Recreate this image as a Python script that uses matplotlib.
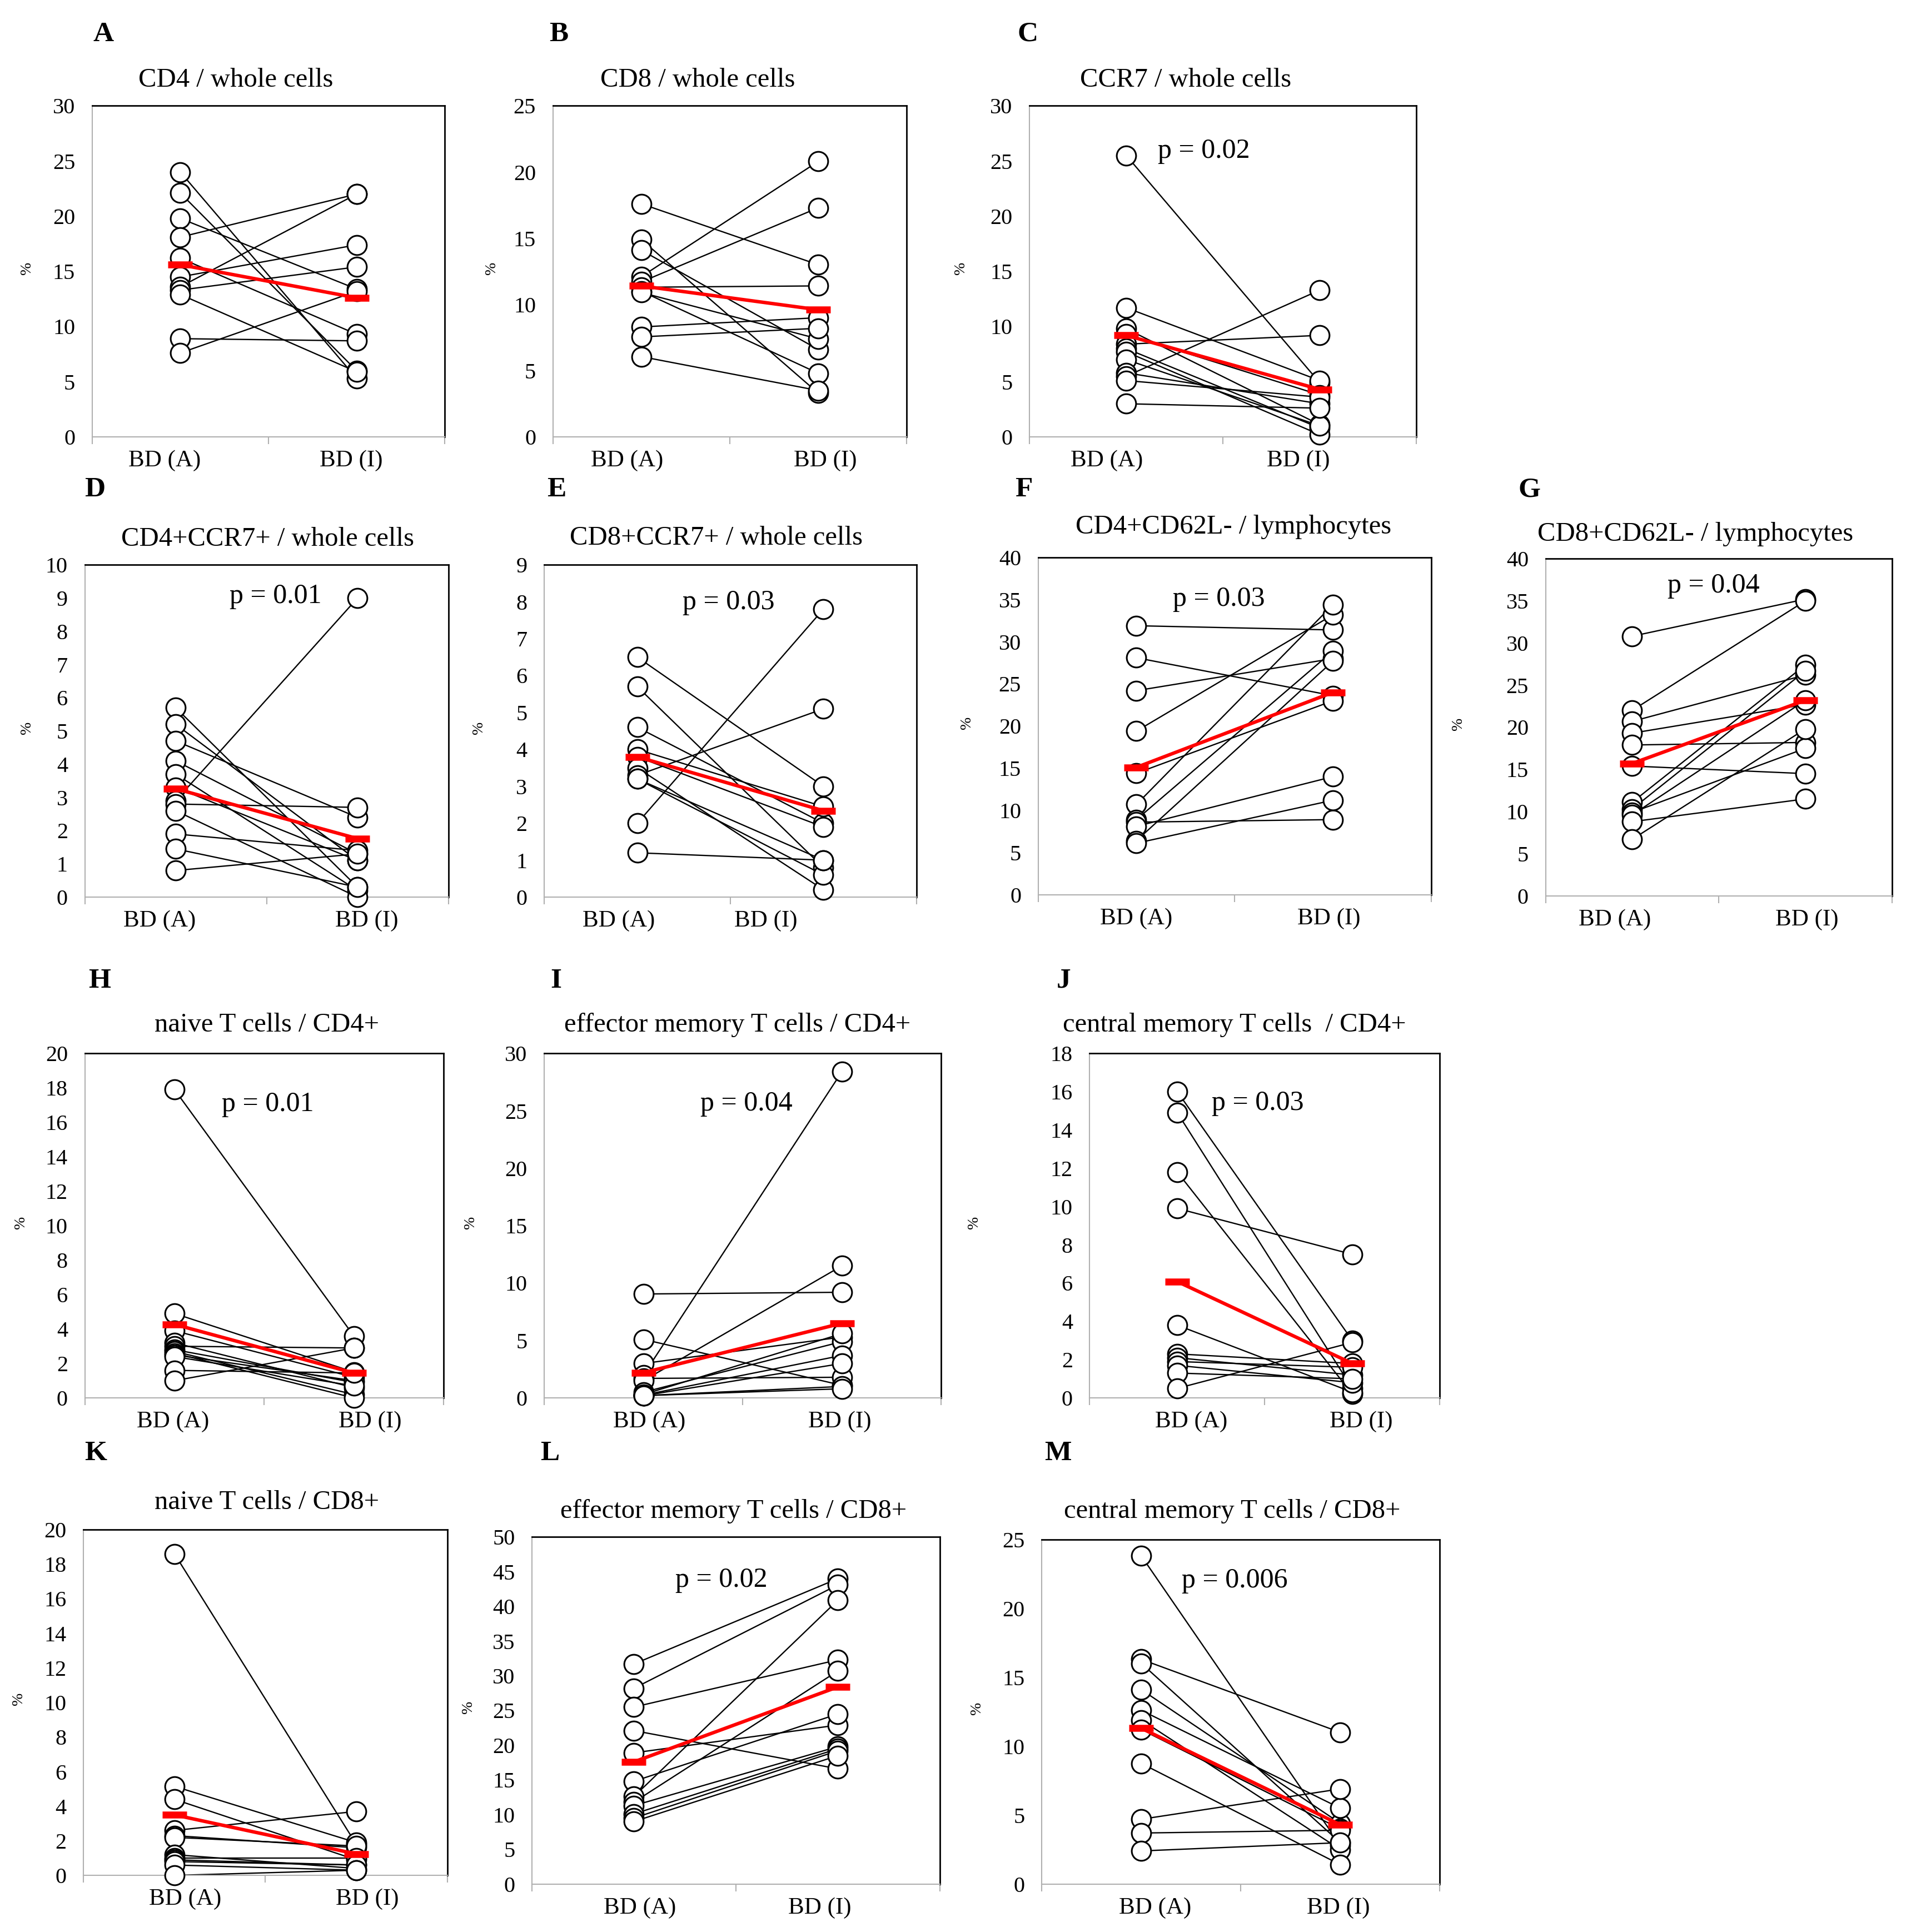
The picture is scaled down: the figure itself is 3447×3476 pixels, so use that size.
import matplotlib.pyplot as plt

plt.rcParams["font.family"] = ["Liberation Serif", "DejaVu Serif"]

groups = ["BD (A)", "BD (I)"]

# A  CD4 / whole cells
cd4_a = [24.0, 22.1, 19.8, 18.1, 16.2, 14.5, 13.6, 13.3, 12.9, 8.9, 7.6]
cd4_i = [5.3, 6.0, 13.4, 22.0, 9.3, 17.4, 22.0, 15.4, 5.9, 8.7, 13.2]
cd4_mean = [15.6, 12.6]

# B  CD8 / whole cells
cd8_a = [17.6, 14.9, 14.1, 12.1, 11.7, 11.3, 11.0, 10.9, 8.3, 7.55, 6.06]
cd8_i = [13.0, 3.3, 6.6, 20.8, 17.3, 11.4, 4.8, 7.4, 9.0, 8.2, 3.5]
cd8_mean = [11.4, 9.6]

# C  CCR7 / whole cells
ccr7_a = [25.5, 11.7, 9.8, 9.3, 8.4, 8.0, 7.7, 7.0, 5.8, 5.5, 5.1, 3.0]
ccr7_i = [4.9, 5.1, 1.1, 3.8, 9.2, 0.8, 0.2, 1.0, 3.0, 13.3, 3.6, 2.6]
ccr7_mean = [9.2, 4.3]

# D  CD4+CCR7+ / whole cells
cd4ccr7_a = [5.7, 5.2, 4.7, 4.1, 3.7, 3.3, 2.9, 2.8, 2.6, 1.9, 1.45, 0.8]
cd4ccr7_i = [0.3, 1.1, 2.4, 1.3, 0.2, 1.1, 9.0, 2.7, 0.0, 1.4, 0.3, 1.3]
cd4ccr7_mean = [3.26, 1.76]

# E  CD8+CCR7+ / whole cells
cd8ccr7_a = [6.5, 5.7, 4.6, 4.0, 3.8, 3.5, 3.3, 3.2, 3.2, 2.0, 1.2]
cd8ccr7_i = [3.0, 0.8, 2.0, 2.45, 1.9, 0.2, 5.1, 0.6, 1.0, 7.8, 1.0]
cd8ccr7_mean = [3.8, 2.34]

# F  CD4+CD62L- / lymphocytes
cd4cd62_a = [31.9, 28.1, 24.2, 19.4, 14.4, 10.7, 8.9, 8.6, 8.1, 6.4, 6.1]
cd4cd62_i = [31.4, 23.6, 28.0, 33.2, 23.0, 34.4, 28.9, 8.9, 14.0, 27.7, 11.2]
cd4cd62_mean = [15.1, 24.0]

# G  CD8+CD62L- / lymphocytes
cd8cd62_a = [30.8, 22.0, 20.7, 19.3, 17.9, 15.4, 11.1, 10.3, 9.9, 9.6, 8.8, 6.7]
cd8cd62_i = [35.2, 35.0, 26.2, 22.7, 18.2, 14.5, 27.4, 26.7, 17.5, 23.2, 11.5, 19.8]
cd8cd62_mean = [15.7, 23.2]

# H  naive T cells / CD4+
naive4_a = [17.9, 4.9, 3.9, 3.2, 3.0, 2.8, 2.7, 2.6, 2.5, 2.4, 1.6, 1.0]
naive4_i = [3.6, 1.5, 1.2, 0.6, 2.9, 0.9, 0.2, 0.0, 1.0, 0.7, 1.45, 2.9]
naive4_mean = [4.27, 1.45]

# I  effector memory T cells / CD4+
em4_a = [9.05, 5.1, 3.0, 2.0, 1.7, 1.5, 0.5, 0.3, 0.25, 0.2, 0.2, 0.2]
em4_i = [9.2, 1.1, 5.3, 28.4, 1.8, 11.5, 4.9, 5.6, 3.7, 3.0, 1.0, 0.8]
em4_mean = [2.2, 6.5]

# J  central memory T cells / CD4+
cm4_a = [16.0, 14.9, 11.8, 9.9, 3.8, 2.3, 2.1, 1.9, 1.7, 1.3, 0.5]
cm4_i = [3.0, 0.5, 0.2, 7.5, 0.3, 1.8, 1.2, 1.6, 0.8, 1.0, 2.9]
cm4_mean = [6.08, 1.8]

# K  naive T cells / CD8+
naive8_a = [18.6, 5.15, 4.4, 2.6, 2.3, 2.2, 1.2, 1.0, 0.9, 0.8, 0.6, 0.0]
naive8_i = [1.8, 1.9, 0.9, 3.7, 1.6, 1.7, 0.4, 1.0, 0.6, 0.6, 0.3, 0.3]
naive8_mean = [3.5, 1.24]

# L  effector memory T cells / CD8+
em8_a = [31.7, 28.2, 25.5, 22.1, 18.9, 14.8, 12.6, 11.8, 11.3, 10.1, 9.5, 9.0]
em8_i = [44.0, 43.1, 32.3, 16.6, 22.9, 24.5, 40.9, 30.7, 19.8, 19.5, 19.2, 18.5]
em8_mean = [17.6, 28.4]

# M  central memory T cells / CD8+
cm8_a = [23.8, 16.3, 16.0, 14.1, 12.6, 11.9, 11.2, 8.75, 4.7, 3.7, 2.4]
cm8_i = [2.8, 11.0, 3.0, 4.4, 5.5, 2.5, 4.0, 1.4, 6.9, 3.9, 3.0]
cm8_mean = [11.3, 4.3]

# layout measured on a 1560 x 1570 grid of the original figure
W, H = 1560.0, 1570.0

panels = [
    dict(letter="A", title="CD4 / whole cells", a=cd4_a, i=cd4_i, mean=cd4_mean,
         ymax=30, step=5, box=(75, 86, 362, 355), title_at=(192, 65), letter_at=(76, 28),
         pct=53, xlab=(0.91, 1.97), p=None),
    dict(letter="B", title="CD8 / whole cells", a=cd8_a, i=cd8_i, mean=cd8_mean,
         ymax=25, step=5, box=(450, 86, 738, 355), title_at=(568, 65), letter_at=(447, 28),
         pct=50, xlab=(0.92, 2.04), p=None),
    dict(letter="C", title="CCR7 / whole cells", a=ccr7_a, i=ccr7_i, mean=ccr7_mean,
         ymax=30, step=5, box=(838, 86, 1153, 355), title_at=(965, 65), letter_at=(828, 28),
         pct=56, xlab=(0.90, 1.89), p=("p = 0.02", 1.40, 25.9)),
    dict(letter="D", title="CD4+CCR7+ / whole cells", a=cd4ccr7_a, i=cd4ccr7_i, mean=cd4ccr7_mean,
         ymax=10, step=1, box=(69, 459, 365, 729), title_at=(218, 438), letter_at=(69, 398),
         pct=47, xlab=(0.91, 2.05), p=("p = 0.01", 1.55, 9.05)),
    dict(letter="E", title="CD8+CCR7+ / whole cells", a=cd8ccr7_a, i=cd8ccr7_i, mean=cd8ccr7_mean,
         ymax=9, step=1, box=(443, 459, 746, 729), title_at=(583, 437), letter_at=(445, 398),
         pct=53, xlab=(0.90, 1.69), p=("p = 0.03", 1.49, 7.98)),
    dict(letter="F", title="CD4+CD62L- / lymphocytes", a=cd4cd62_a, i=cd4cd62_i, mean=cd4cd62_mean,
         ymax=40, step=5, box=(845, 453, 1165, 727), title_at=(1004, 428), letter_at=(826, 398),
         pct=58, xlab=(1.00, 1.98), p=("p = 0.03", 1.42, 35.1)),
    dict(letter="G", title="CD8+CD62L- / lymphocytes", a=cd8cd62_a, i=cd8cd62_i, mean=cd8cd62_mean,
         ymax=40, step=5, box=(1258, 454, 1540, 728), title_at=(1380, 434), letter_at=(1236, 398),
         pct=71, xlab=(0.90, 2.01), p=("p = 0.04", 1.47, 36.8)),
    dict(letter="H", title="naive T cells / CD4+", a=naive4_a, i=naive4_i, mean=naive4_mean,
         ymax=20, step=2, box=(69, 856, 361, 1136), title_at=(217, 833), letter_at=(72, 797),
         pct=52, xlab=(0.99, 2.09), p=("p = 0.01", 1.52, 17.06)),
    dict(letter="I", title="effector memory T cells / CD4+", a=em4_a, i=em4_i, mean=em4_mean,
         ymax=30, step=5, box=(443, 856, 766, 1136), title_at=(600, 833), letter_at=(448, 797),
         pct=60, xlab=(1.03, 1.99), p=("p = 0.04", 1.52, 25.6)),
    dict(letter="J", title="central memory T cells  / CD4+", a=cm4_a, i=cm4_i, mean=cm4_mean,
         ymax=18, step=2, box=(887, 856, 1172, 1136), title_at=(1005, 833), letter_at=(860, 797),
         pct=94, xlab=(1.08, 2.05), p=("p = 0.03", 1.46, 15.4)),
    dict(letter="K", title="naive T cells / CD8+", a=naive8_a, i=naive8_i, mean=naive8_mean,
         ymax=20, step=2, box=(68, 1243, 364, 1524), title_at=(217, 1221), letter_at=(69, 1181),
         pct=53, xlab=(1.06, 2.06), p=None),
    dict(letter="L", title="effector memory T cells / CD8+", a=em8_a, i=em8_i, mean=em8_mean,
         ymax=50, step=5, box=(433, 1249, 765, 1531), title_at=(597, 1228), letter_at=(440, 1181),
         pct=52, xlab=(1.03, 1.91), p=("p = 0.02", 1.43, 43.8)),
    dict(letter="M", title="central memory T cells / CD8+", a=cm8_a, i=cm8_i, mean=cm8_mean,
         ymax=25, step=5, box=(848, 1251, 1172, 1531), title_at=(1003, 1228), letter_at=(850, 1181),
         pct=53, xlab=(1.07, 1.99), p=("p = 0.006", 1.47, 22.0)),
]

fig = plt.figure(figsize=(34.48, 34.76), dpi=100)

for pn in panels:
    x0, y0, x1, y1 = pn["box"]
    ax = fig.add_axes([x0 / W, 1 - y1 / H, (x1 - x0) / W, (y1 - y0) / H])

    for a, b in zip(pn["a"], pn["i"]):
        ax.plot([1, 2], [a, b], color="black", lw=1.7, zorder=2)
    ax.plot([1] * len(pn["a"]), pn["a"], "o", ms=25, mfc="white", mec="black",
            mew=2.2, zorder=3, clip_on=False)
    ax.plot([2] * len(pn["i"]), pn["i"], "o", ms=25, mfc="white", mec="black",
            mew=2.2, zorder=3, clip_on=False)
    ax.plot([1, 2], pn["mean"], color="red", lw=4.5, zorder=4)
    ax.plot([1, 2], pn["mean"], "_", color="red", ms=32, mew=9, zorder=5, clip_on=False)

    ax.set_xlim(0.5, 2.5)
    ax.set_ylim(0, pn["ymax"])
    ax.set_yticks(range(0, pn["ymax"] + 1, pn["step"]))
    ax.tick_params(axis="y", length=0, pad=22, labelsize=29)
    ax.set_xticks(pn["xlab"])
    ax.set_xticklabels(groups)
    ax.set_xticks([0.5, 1.5, 2.5], minor=True)
    ax.tick_params(axis="x", which="major", length=0, pad=17, labelsize=31)
    ax.tick_params(axis="x", which="minor", length=9, width=1.5, color="#b0b0b0",
                   direction="out")

    for side in ("left", "bottom"):
        ax.spines[side].set_color("#b0b0b0")
        ax.spines[side].set_linewidth(1.5)
    for side in ("top", "right"):
        ax.spines[side].set_color("black")
        ax.spines[side].set_linewidth(2)

    ax.text(-pn["pct"] / (x1 - x0), 0.51, "%", transform=ax.transAxes, rotation=90,
            ha="center", va="center", fontsize=20)

    if pn["p"]:
        txt, px, py = pn["p"]
        ax.text(px, py, txt, ha="center", va="center", fontsize=36, zorder=6)

    tx, ty = pn["title_at"]
    fig.text(tx / W, 1 - ty / H, pn["title"], ha="center", va="center", fontsize=35)
    lx, ly = pn["letter_at"]
    fig.text(lx / W, 1 - ly / H, pn["letter"], ha="left", va="center",
             fontsize=37, fontweight="bold")

fig.savefig("out.png", dpi=100, facecolor="white")
